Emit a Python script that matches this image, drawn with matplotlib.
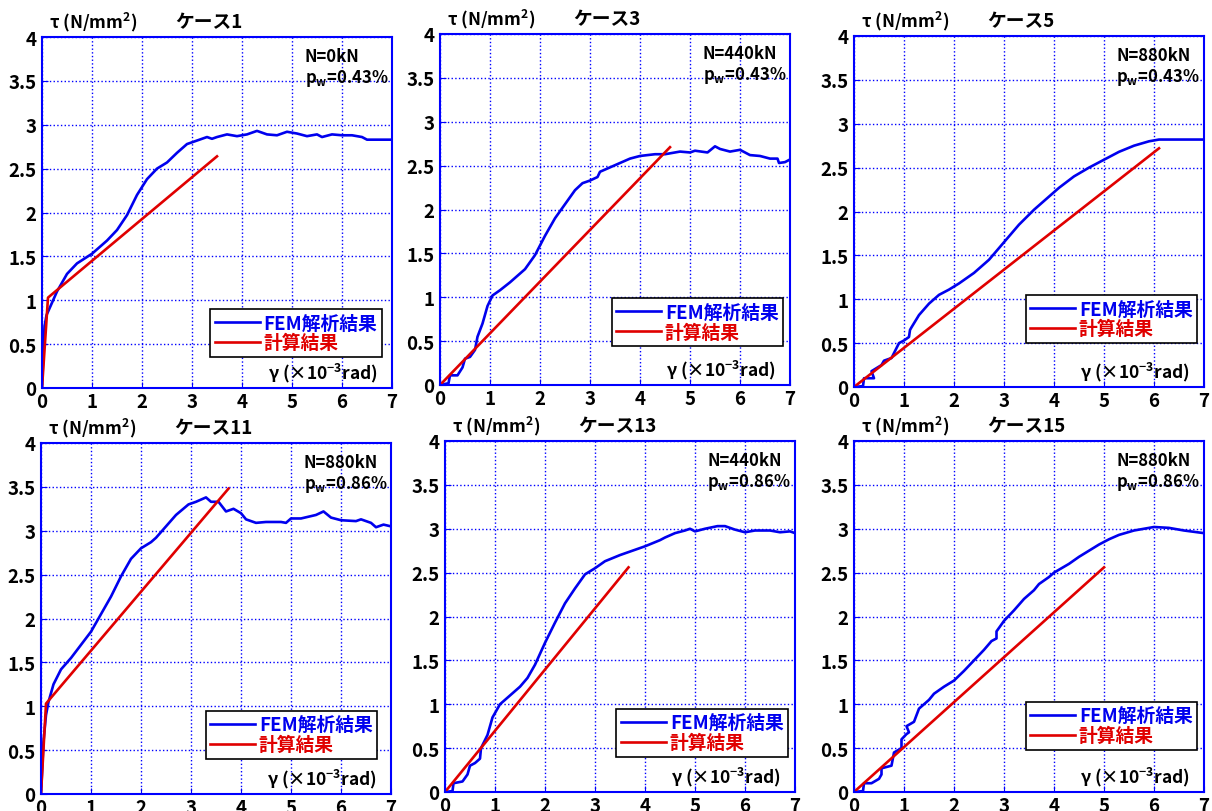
import matplotlib
matplotlib.use('Agg')
import matplotlib.pyplot as plt
import numpy as np

plt.rcParams['font.family'] = ['Noto Sans CJK JP', 'DejaVu Sans']
plt.rcParams['font.weight'] = 'bold'
plt.rcParams['mathtext.fontset'] = 'custom'
plt.rcParams['mathtext.rm'] = 'Noto Sans CJK JP:bold'
plt.rcParams['mathtext.default'] = 'regular'

# ケース1
c1_fem_x = [0, 0.05, 0.09, 0.3, 0.5, 0.7, 1.0, 1.3, 1.5, 1.7, 1.9, 2.1, 2.3, 2.5, 2.7, 2.9, 3.0, 3.2, 3.3, 3.4,
            3.5, 3.7, 3.9, 4.1, 4.3, 4.5, 4.7, 4.9, 5.1, 5.3, 5.5, 5.6, 5.8, 6.0, 6.2, 6.4, 6.5, 7.0]
c1_fem_y = [0, 0.7, 0.83, 1.1, 1.3, 1.42, 1.53, 1.68, 1.8, 1.97, 2.2, 2.38, 2.5, 2.57, 2.68, 2.78, 2.8, 2.84, 2.86, 2.84,
            2.86, 2.89, 2.87, 2.89, 2.93, 2.89, 2.88, 2.92, 2.9, 2.87, 2.89, 2.86, 2.89, 2.88, 2.88, 2.86, 2.83, 2.83]
c1_calc_x = [0, 0.12, 3.5]
c1_calc_y = [0, 1.03, 2.64]

# ケース3
c3_fem_x = [0, 0.17, 0.2, 0.35, 0.45, 0.5, 0.6, 0.7, 0.75, 0.85, 0.95, 1.05, 1.2, 1.4, 1.7, 1.9, 2.1, 2.3, 2.5, 2.7,
            2.85, 3.0, 3.15, 3.2, 3.4, 3.6, 3.8, 4.0, 4.3, 4.5, 4.8, 5.0, 5.1, 5.35, 5.5, 5.6, 5.8, 6.0, 6.2, 6.4,
            6.6, 6.75, 6.78, 6.9, 7.0]
c3_fem_y = [0, 0.02, 0.11, 0.11, 0.2, 0.3, 0.32, 0.4, 0.55, 0.7, 0.9, 1.02, 1.08, 1.17, 1.32, 1.48, 1.7, 1.9, 2.06, 2.22,
            2.3, 2.33, 2.37, 2.43, 2.48, 2.53, 2.58, 2.61, 2.63, 2.63, 2.66, 2.65, 2.67, 2.65, 2.72, 2.69, 2.66, 2.68, 2.62, 2.61,
            2.58, 2.58, 2.53, 2.54, 2.57]
c3_calc_x = [0, 4.6]
c3_calc_y = [0, 2.71]

# ケース5
c5_fem_x = [0, 0.18, 0.2, 0.4, 0.35, 0.55, 0.6, 0.75, 0.9, 1.0, 1.1, 1.12, 1.15, 1.3, 1.5, 1.7, 1.9, 2.1, 2.4, 2.7,
            3.0, 3.3, 3.6, 3.9, 4.1, 4.4, 4.7, 5.0, 5.3, 5.6, 5.9, 6.1, 7.0]
c5_fem_y = [0, 0.01, 0.1, 0.1, 0.18, 0.25, 0.3, 0.33, 0.5, 0.53, 0.57, 0.65, 0.68, 0.82, 0.95, 1.05, 1.11, 1.18, 1.3, 1.45,
            1.65, 1.85, 2.02, 2.17, 2.27, 2.4, 2.5, 2.59, 2.68, 2.75, 2.8, 2.82, 2.82]
c5_calc_x = [0, 6.1]
c5_calc_y = [0, 2.72]

# ケース11
c11_fem_x = [0, 0.05, 0.1, 0.15, 0.25, 0.4, 0.6, 0.8, 1.0, 1.2, 1.4, 1.6, 1.8, 2.0, 2.2, 2.3, 2.5, 2.7, 2.95, 3.1,
             3.3, 3.4, 3.55, 3.7, 3.85, 4.0, 4.1, 4.3, 4.5, 4.8, 4.9, 5.0, 5.2, 5.5, 5.65, 5.8, 6.0, 6.3, 6.4, 6.6,
             6.7, 6.85, 7.0]
c11_fem_y = [0, 0.6, 0.9, 1.05, 1.25, 1.42, 1.55, 1.7, 1.85, 2.05, 2.25, 2.48, 2.68, 2.8, 2.87, 2.92, 3.05, 3.18, 3.3, 3.33,
             3.38, 3.33, 3.33, 3.22, 3.25, 3.2, 3.13, 3.09, 3.1, 3.1, 3.09, 3.14, 3.14, 3.18, 3.22, 3.15, 3.12, 3.11, 3.13, 3.09,
             3.04, 3.07, 3.05]
c11_calc_x = [0, 0.1, 3.75]
c11_calc_y = [0, 1.03, 3.48]

# ケース13
c13_fem_x = [0, 0.15, 0.17, 0.35, 0.45, 0.5, 0.6, 0.7, 0.72, 0.85, 0.95, 1.1, 1.3, 1.5, 1.65, 1.8, 2.0, 2.2, 2.4, 2.6,
             2.8, 3.0, 3.2, 3.5, 3.8, 4.0, 4.3, 4.4, 4.6, 4.8, 4.9, 5.0, 5.2, 5.45, 5.6, 5.8, 6.0, 6.2, 6.5, 6.7,
             6.9, 7.0]
c13_fem_y = [0, 0.01, 0.1, 0.12, 0.2, 0.3, 0.33, 0.38, 0.5, 0.65, 0.85, 1.0, 1.1, 1.2, 1.3, 1.45, 1.7, 1.93, 2.15, 2.32,
             2.48, 2.55, 2.63, 2.7, 2.76, 2.8, 2.87, 2.9, 2.95, 2.98, 3.0, 2.97, 3.0, 3.03, 3.03, 2.99, 2.96, 2.98, 2.98, 2.96,
             2.97, 2.95]
c13_calc_x = [0, 3.67]
c13_calc_y = [0, 2.56]

# ケース15
c15_fem_x = [0, 0.18, 0.2, 0.35, 0.5, 0.55, 0.55, 0.75, 0.8, 0.95, 0.95, 1.05, 1.1, 1.05, 1.2, 1.3, 1.5, 1.6, 1.8, 2.0,
             2.2, 2.4, 2.6, 2.75, 2.85, 2.85, 3.0, 3.2, 3.4, 3.6, 3.7, 3.9, 4.0, 4.3, 4.5, 4.7, 4.9, 5.1, 5.3, 5.6,
             6.0, 6.3, 6.6, 7.0]
c15_fem_y = [0, 0.01, 0.1, 0.1, 0.15, 0.2, 0.27, 0.3, 0.45, 0.5, 0.6, 0.66, 0.68, 0.75, 0.8, 0.95, 1.05, 1.12, 1.2, 1.27,
             1.38, 1.5, 1.62, 1.72, 1.75, 1.83, 1.95, 2.07, 2.2, 2.3, 2.37, 2.45, 2.5, 2.6, 2.68, 2.75, 2.82, 2.88, 2.93, 2.98,
             3.02, 3.01, 2.98, 2.95]
c15_calc_x = [0, 5.0]
c15_calc_y = [0, 2.56]

titles = ['ケース1', 'ケース3', 'ケース5', 'ケース11', 'ケース13', 'ケース15']
n_labels = ['N=0kN', 'N=440kN', 'N=880kN', 'N=880kN', 'N=440kN', 'N=880kN']
pw_labels = ['0.43%', '0.43%', '0.43%', '0.86%', '0.86%', '0.86%']
fem_x = [c1_fem_x, c3_fem_x, c5_fem_x, c11_fem_x, c13_fem_x, c15_fem_x]
fem_y = [c1_fem_y, c3_fem_y, c5_fem_y, c11_fem_y, c13_fem_y, c15_fem_y]
calc_x = [c1_calc_x, c3_calc_x, c5_calc_x, c11_calc_x, c13_calc_x, c15_calc_x]
calc_y = [c1_calc_y, c3_calc_y, c5_calc_y, c11_calc_y, c13_calc_y, c15_calc_y]

# axes position in pixels: left, bottom (from top)
pos_px = [(42, 389), (440, 386), (854, 388), (41, 795), (445, 793), (854, 793)]
leg_pos = [(0.48, 0.088), (0.49, 0.11), (0.49, 0.125), (0.47, 0.10), (0.49, 0.10), (0.49, 0.12)]

W, H = 1212, 812
fig = plt.figure(figsize=(W / 100, H / 100), dpi=100)

blue = '#0000ee'
red = '#e00000'

for i in range(6):
    l, b = pos_px[i]
    ax = fig.add_axes([l / W, (H - b) / H, 350 / W, 351 / H])
    ax.plot(fem_x[i], fem_y[i], color=blue, lw=1.9, label='FEM解析結果')
    ax.plot(calc_x[i], calc_y[i], color=red, lw=1.9, label='計算結果')
    ax.set_xlim(0, 7)
    ax.set_ylim(0, 4)
    ax.set_xticks(np.arange(0, 8, 1))
    ax.set_yticks(np.arange(0, 4.5, 0.5))
    ax.set_yticklabels(['0', '0.5', '1', '1.5', '2', '2.5', '3', '3.5', '4'])
    ax.grid(True, color='#0000ff', linestyle=':', linewidth=1.0)
    for s in ax.spines.values():
        s.set_color('#0000ff')
        s.set_linewidth(1.5)
    ax.tick_params(direction='in', length=4, color='#0000ff', labelsize=13.5, pad=4)
    ax.tick_params(axis='x', pad=3)
    for t in ax.get_xticklabels() + ax.get_yticklabels():
        t.set_fontweight('bold')

    ax.text(0.02, 1.045, 'τ (N/mm$^{2}$)', transform=ax.transAxes, fontsize=12.5, fontweight='bold', va='center')
    ax.text(0.38, 1.045, titles[i], transform=ax.transAxes, fontsize=13.5, fontweight='bold', va='center')
    ax.text(0.75, 0.945, n_labels[i], transform=ax.transAxes, fontsize=12, fontweight='bold', va='center')
    ax.text(0.75, 0.885, 'p$_{w}$=' + pw_labels[i], transform=ax.transAxes, fontsize=12,
            fontweight='bold', va='center')
    ax.text(0.96, 0.045, 'γ (×10$^{-3}$rad)', transform=ax.transAxes, fontsize=12.5, fontweight='bold',
            va='center', ha='right')

    leg = ax.legend(loc='lower left', bbox_to_anchor=leg_pos[i], fontsize=13.5, frameon=True,
                    fancybox=False, edgecolor='black', framealpha=1, borderpad=0.25, labelspacing=0.05,
                    handlelength=2.4, handletextpad=0.2, borderaxespad=0)
    leg.get_frame().set_linewidth(1.2)
    for txt, c in zip(leg.get_texts(), [blue, red]):
        txt.set_color(c)
        txt.set_fontweight('bold')

fig.savefig('out.png', dpi=100)
